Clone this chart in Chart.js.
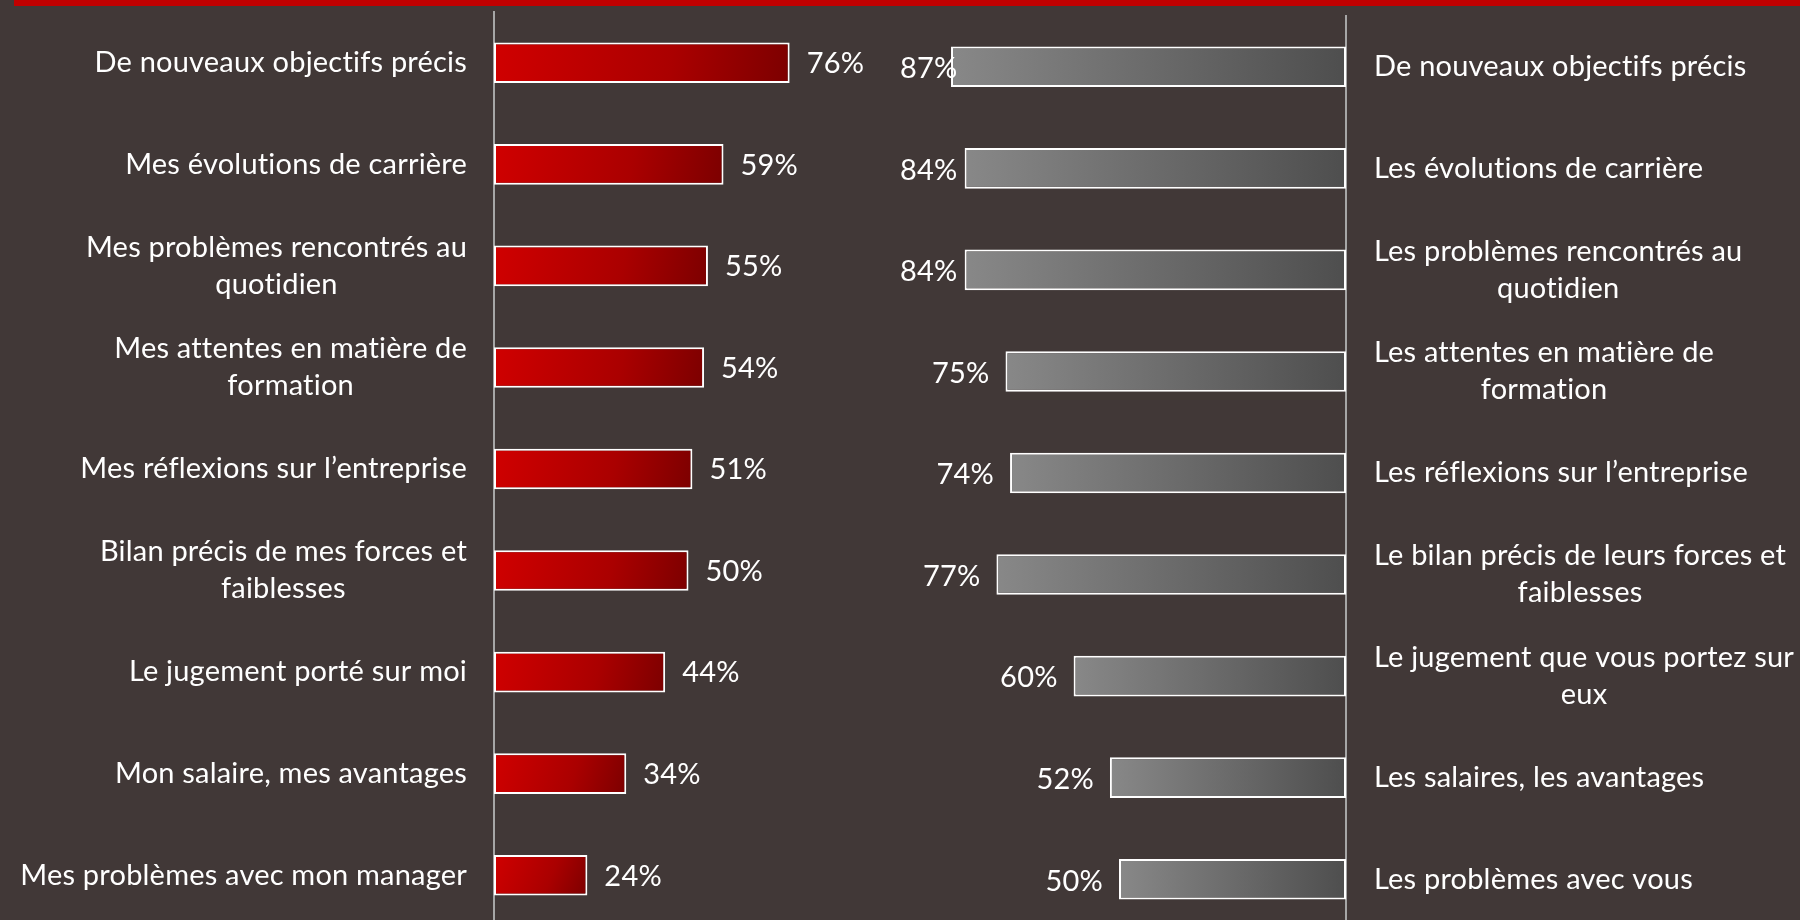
<!DOCTYPE html>
<html>
<head>
<meta charset="utf-8">
<script src="https://cdn.jsdelivr.net/npm/chart.js@4.4.1/dist/chart.umd.min.js"></script>
<style>
  html, body { margin:0; padding:0; width:1800px; height:920px; overflow:hidden; background:#413837; }
  #band { position:absolute; left:14px; top:0; width:1786px; height:6px; background:#c00000; }
  canvas { position:absolute; left:0; top:0; }
</style>
</head>
<body>
<div id="band"></div>
<canvas id="left" width="1800" height="940"></canvas>
<canvas id="right" width="1800" height="940"></canvas>
<script>
// left: employees' view, right: managers' view
let leftLabels = [
  'De nouveaux objectifs précis',
  'Mes évolutions de carrière',
  ['Mes problèmes rencontrés au', 'quotidien'],
  ['Mes attentes en matière de', 'formation'],
  'Mes réflexions sur l’entreprise',
  ['Bilan précis de mes forces et', 'faiblesses'],
  'Le jugement porté sur moi',
  'Mon salaire, mes avantages',
  'Mes problèmes avec mon manager'
]
let leftValues = [76, 59, 55, 54, 51, 50, 44, 34, 24]

let rightLabels = [
  'De nouveaux objectifs précis',
  'Les évolutions de carrière',
  ['Les problèmes rencontrés au', 'quotidien'],
  ['Les attentes en matière de', 'formation'],
  'Les réflexions sur l’entreprise',
  ['Le bilan précis de leurs forces et', 'faiblesses'],
  ['Le jugement que vous portez sur', 'eux'],
  'Les salaires, les avantages',
  'Les problèmes avec vous'
]
let rightValues = [87, 84, 84, 75, 74, 77, 60, 52, 50]

const FONT = '29px Lato'
const LINE_H = 37

function redFill(ctx) {
  let chart = ctx.chart
  if (!chart.chartArea) return '#b00000'
  let x0 = chart.scales.x.getPixelForValue(0)
  let x1 = chart.scales.x.getPixelForValue(ctx.raw)
  let y = chart.scales.y.getPixelForValue(ctx.dataIndex)
  let g = chart.ctx.createLinearGradient(x0, y - 20, x1, y + 20)
  g.addColorStop(0, '#d00000')
  g.addColorStop(0.6, '#aa0000')
  g.addColorStop(1, '#7c0000')
  return g
}

function grayFill(ctx) {
  let chart = ctx.chart
  if (!chart.chartArea) return '#666'
  let x0 = chart.scales.x.getPixelForValue(ctx.raw)
  let x1 = chart.scales.x.getPixelForValue(0)
  let g = chart.ctx.createLinearGradient(x0, 0, x1, 0)
  g.addColorStop(0, '#888888')
  g.addColorStop(1, '#4e4e4e')
  return g
}

// category and value labels drawn at the scale positions
function labelPlugin(side) {
  return {
    id: 'labels_' + side,
    afterDatasetsDraw(chart) {
      let c = chart.ctx
      let area = chart.chartArea
      let xs = chart.scales.x, ys = chart.scales.y
      let labels = chart.data.labels
      let values = chart.data.datasets[0].data
      c.save()
      c.font = FONT
      c.letterSpacing = '0.2px'
      c.fillStyle = '#ffffff'
      c.textBaseline = 'middle'
      labels.forEach((lab, i) => {
        let lines = Array.isArray(lab) ? lab : [lab]
        let yc = ys.getPixelForValue(i)
        let maxW = Math.max(...lines.map(l => c.measureText(l).width))
        let cx = side === 'left' ? area.left - 27 - maxW / 2 : area.right + 28 + maxW / 2
        c.textAlign = 'center'
        lines.forEach((l, k) => {
          c.fillText(l, cx, yc + (k - (lines.length - 1) / 2) * LINE_H)
        })
        let txt = values[i] + '%'
        let w = c.measureText(txt).width
        let xb = xs.getPixelForValue(values[i])
        c.textAlign = 'left'
        if (side === 'left') {
          c.fillText(txt, xb + 17, yc + 1)
        } else {
          let tx = Math.max(xb - 16 - w, area.left + 8)
          c.fillText(txt, tx, yc + 2)
        }
      })
      c.restore()
    }
  }
}

function makeChart(id, side, labels, values, fill, pad) {
  return new Chart(document.getElementById(id), {
    type: 'bar',
    data: {
      labels: labels,
      datasets: [{
        data: values,
        backgroundColor: fill,
        borderColor: '#ffffff',
        borderWidth: 2,
        borderSkipped: false,
        barPercentage: 0.4,
        categoryPercentage: 1
      }]
    },
    options: {
      indexAxis: 'y',
      responsive: false,
      animation: false,
      devicePixelRatio: 1,
      layout: { padding: pad },
      plugins: { legend: { display: false }, tooltip: { enabled: false } },
      scales: {
        x: { display: false, min: 0, max: 100, reverse: side === 'right' },
        y: {
          position: side,
          ticks: { display: false },
          grid: { display: false, drawTicks: false },
          border: { display: true, color: '#a6a6a6', width: 2 }
        }
      }
    },
    plugins: [labelPlugin(side)]
  })
}

makeChart('left', 'left', leftLabels, leftValues, redFill,
  { left: 494, right: 917, top: 12, bottom: 14 })
makeChart('right', 'right', rightLabels, rightValues, grayFill,
  { left: 892, right: 454, top: 16, bottom: 10 })
</script>
</body>
</html>
